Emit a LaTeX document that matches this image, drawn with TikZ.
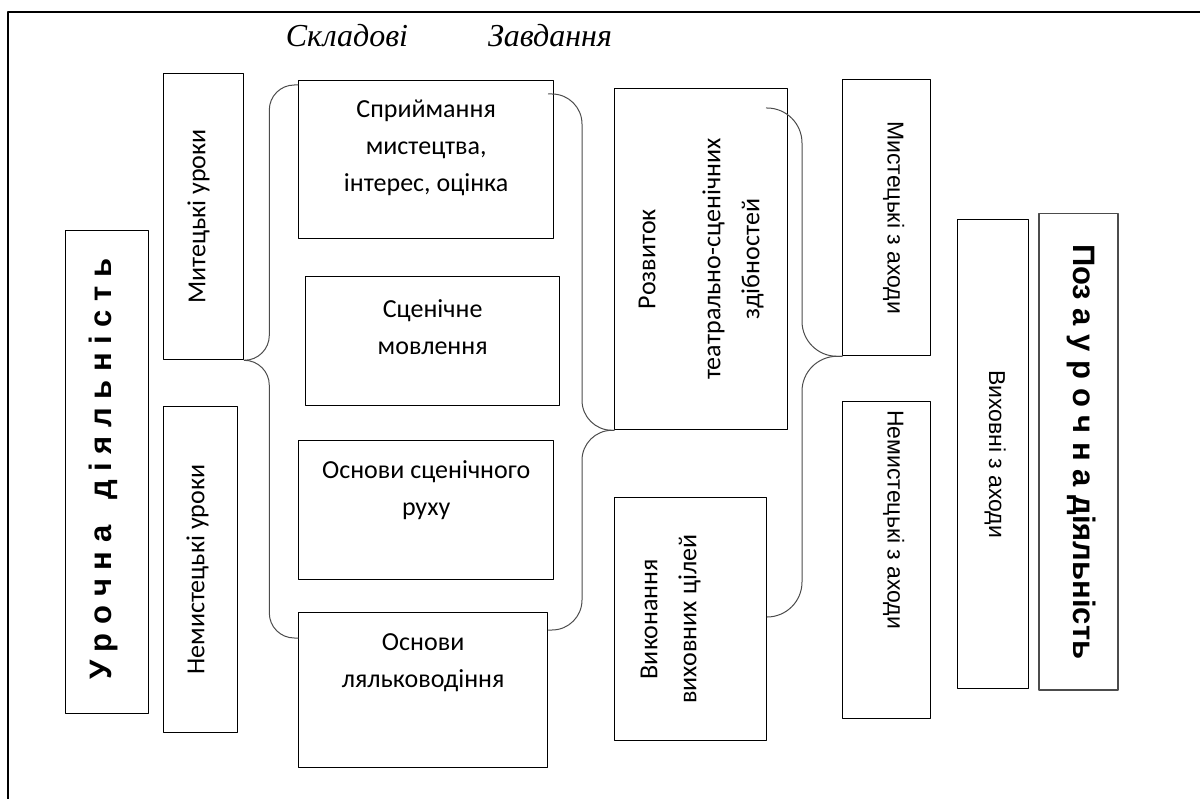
\documentclass[tikz,border=0pt]{standalone}
\usepackage{fontspec}
\setmainfont{Carlito}
\newfontfamily\arialfont{Liberation Sans}
\newfontfamily\timesfont{Liberation Serif}
\begin{document}
\begin{tikzpicture}[line cap=round, line join=round, x=1pt, y=-1pt]
	\tikzset{box/.style={draw, line width=1.3pt, inner sep=0pt, anchor=north west},
		brace/.style={draw=black!70, line width=1pt},
		txt/.style={font=\fontsize{26}{37}\selectfont, align=center, inner sep=0pt, anchor=north},
		vtxt/.style={font=\fontsize{26}{39}\selectfont, align=center, inner sep=0pt, rotate=90},
		rtxt/.style={font=\arialfont\fontsize{23}{28}\selectfont, inner sep=0pt, rotate=-90},
		btxt/.style={font=\arialfont\bfseries\fontsize{31}{36}\selectfont, inner sep=0pt},
		title/.style={font=\timesfont\itshape\fontsize{32}{36}\selectfont, anchor=base}}
	\useasboundingbox (0,0) rectangle (1200,799);
	\draw[line width=1.5pt] (8,799) -- (8,12) -- (1200,12);
	% headings
	\node[title] (skladovi) at (347,47) {Складові};
	\node[title] (zavdannya) at (550,47) {Завдання};
	% left column
	\node[box, minimum width=83pt, minimum height=483pt] (uroch) at (65,230) {};
	\node[btxt, rotate=90] (t-uroch) at ([xshift=-4pt,yshift=3pt]uroch.center) {У р о ч н а~~~д і я л ь н і с т ь};
	\node[box, minimum width=80pt, minimum height=286pt] (mytur) at (163,73) {};
	\node[vtxt] (t-mytur) at ([xshift=-5pt]mytur.center) {Митецькі уроки};
	\node[box, minimum width=74pt, minimum height=326pt] (nemytur) at (163,406) {};
	\node[vtxt] (t-nemytur) at ([xshift=-3pt]nemytur.center) {Немистецькі уроки};
	% components
	\node[box, minimum width=255pt, minimum height=158pt] (spryim) at (298,80) {};
	\node[txt] (t-spryim) at ([yshift=-20pt]spryim.north) {Сприймання\\мистецтва,\\інтерес, оцінка};
	\node[box, minimum width=254pt, minimum height=129pt] (stsen) at (305,276) {};
	\node[txt] (t-stsen) at ([yshift=-23pt]stsen.north) {Сценічне\\мовлення};
	\node[box, minimum width=255pt, minimum height=139pt] (osnruh) at (298,440) {};
	\node[txt] (t-osnruh) at ([yshift=-20pt]osnruh.north) {Основи сценічного\\руху};
	\node[box, minimum width=249pt, minimum height=155pt] (lyal) at (298,612) {};
	\node[txt] (t-lyal) at ([yshift=-21pt]lyal.north) {Основи\\ляльководіння};
	% tasks
	\node[box, minimum width=173pt, minimum height=341pt] (rozv) at (614,88) {};
	\node[vtxt] (t-rozv) at (rozv.center) {Розвиток\\[26pt]театрально-сценічних\\здібностей};
	\node[box, minimum width=152pt, minimum height=243pt] (vykon) at (614,497) {};
	\node[vtxt] (t-vykon) at ([xshift=-20pt]vykon.center) {Виконання\\виховних цілей};
	% right column
	\node[box, minimum width=88pt, minimum height=276pt] (mzax) at (842,79) {};
	\node[rtxt] (t-mzax) at ([xshift=7pt]mzax.center) {Мистецькі з аходи};
	\node[box, minimum width=88pt, minimum height=317pt] (nemzax) at (842,401) {};
	\node[rtxt, anchor=west] (t-nemzax) at ([xshift=7pt,yshift=-9pt]nemzax.north) {Немистецькі з аходи};
	\node[box, minimum width=71pt, minimum height=469pt] (vyhzax) at (957,219) {};
	\node[rtxt] (t-vyhzax) at ([xshift=2pt]vyhzax.center) {Виховні з аходи};
	\node[box, draw=black!70, line width=1.5pt, minimum width=79pt, minimum height=476pt] (pozaur) at (1038,213) {};
	\node[btxt, rotate=-90] (t-pozaur) at ([xshift=3pt]pozaur.center) {Поз а у р о ч н а діяльність};
	% braces
	\draw[brace, rounded corners=25pt] ([yshift=-5pt]spryim.north west) -| ([xshift=25pt]mytur.south east) -- (mytur.south east);
	\draw[brace, rounded corners=25pt] (mytur.south east) -- ([xshift=25pt]mytur.south east) |- ([yshift=-26pt]lyal.north west);
	\draw[brace, rounded corners=30pt] ([xshift=-6pt,yshift=-14pt]spryim.north east) -| ([xshift=-32pt]rozv.south west) -- (rozv.south west);
	\draw[brace, rounded corners=30pt] (rozv.south west) -- ([xshift=-32pt]rozv.south west) |- ([yshift=-18pt]lyal.north east);
	\draw[brace, rounded corners=35pt] ([xshift=-22pt,yshift=-20pt]rozv.north east) -| ([xshift=-40pt]mzax.south west) -- (mzax.south west);
	\draw[brace, rounded corners=35pt] (mzax.south west) -- ([xshift=-40pt]mzax.south west) |- ([yshift=-120pt]vykon.north east);
\end{tikzpicture}
\end{document}
